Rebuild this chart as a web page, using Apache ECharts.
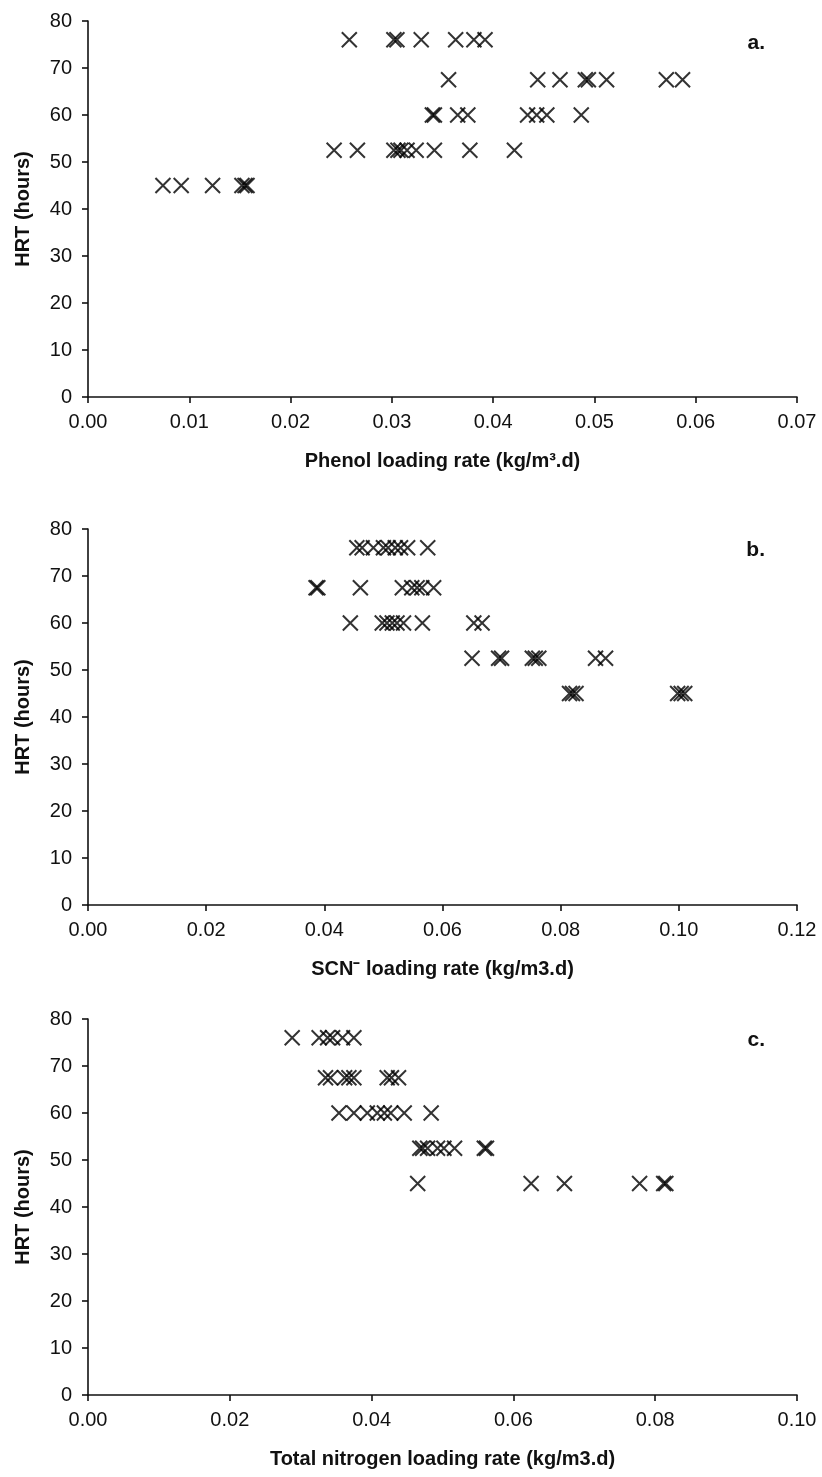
<!DOCTYPE html>
<html><head><meta charset="utf-8">
<script src="https://cdn.jsdelivr.net/npm/echarts@6/dist/echarts.min.js"></script>
<style>html,body{margin:0;padding:0;background:#fff}#c{width:822px;height:1477px}</style>
</head><body><div id="c"></div><script>
// Panel a: phenol loading rate vs HRT
const phenolRate = [0.0074,0.0092,0.0123,0.0152,0.0155,0.0157,
  0.0243,0.0266,0.0302,0.0306,0.0309,0.0315,0.0324,0.0342,0.0377,0.0421,
  0.0340,0.0342,0.0365,0.0375,0.0434,0.0443,0.0453,0.0487,
  0.0356,0.0444,0.0466,0.0491,0.0494,0.0512,0.0571,0.0587,
  0.0258,0.0302,0.0305,0.0329,0.0363,0.0381,0.0392];
const phenolHRT = [45,45,45,45,45,45,
  52.5,52.5,52.5,52.5,52.5,52.5,52.5,52.5,52.5,52.5,
  60,60,60,60,60,60,60,60,
  67.5,67.5,67.5,67.5,67.5,67.5,67.5,67.5,
  76,76,76,76,76,76,76];
// Panel b: SCN- loading rate vs HRT
const scnRate = [0.0815,0.0820,0.0826,0.0998,0.1004,0.1010,
  0.0650,0.0695,0.0700,0.0752,0.0757,0.0763,0.0859,0.0876,
  0.0444,0.0498,0.0506,0.0515,0.0523,0.0534,0.0566,0.0653,0.0667,
  0.0386,0.0389,0.0461,0.0532,0.0548,0.0557,0.0565,0.0585,
  0.0455,0.0464,0.0483,0.0500,0.0508,0.0520,0.0529,0.0541,0.0575];
const scnHRT = [45,45,45,45,45,45,
  52.5,52.5,52.5,52.5,52.5,52.5,52.5,52.5,
  60,60,60,60,60,60,60,60,60,
  67.5,67.5,67.5,67.5,67.5,67.5,67.5,67.5,
  76,76,76,76,76,76,76,76,76];
// Panel c: total nitrogen loading rate vs HRT
const tnRate = [0.0465,0.0625,0.0672,0.0778,0.0812,0.0815,
  0.0468,0.0472,0.0479,0.0493,0.0502,0.0517,0.0559,0.0562,
  0.0354,0.0375,0.0394,0.0408,0.0418,0.0427,0.0446,0.0484,
  0.0335,0.0342,0.0362,0.0368,0.0375,0.0422,0.0428,0.0438,
  0.0288,0.0326,0.0338,0.0345,0.0359,0.0375];
const tnHRT = [45,45,45,45,45,45,
  52.5,52.5,52.5,52.5,52.5,52.5,52.5,52.5,
  60,60,60,60,60,60,60,60,
  67.5,67.5,67.5,67.5,67.5,67.5,67.5,67.5,
  76,76,76,76,76,76];

const xTitles = ['Phenol loading rate (kg/m³.d)', 'SCN⁻ loading rate (kg/m3.d)', 'Total nitrogen loading rate (kg/m3.d)'];
const xMax = [0.07, 0.12, 0.10];
const xStep = [0.01, 0.02, 0.02];
const panelLabels = ['a.', 'b.', 'c.'];
const yTitle = 'HRT (hours)';

const FONT = '"Liberation Sans", Arial, sans-serif';
const INK = '#111';
const tops = [21, 529, 1019];
const heights = [376, 376, 376];
const labelTops = [28, 535, 1025];
const sets = [[phenolRate, phenolHRT],[scnRate, scnHRT],[tnRate, tnHRT]];

const axisLine = {show:true, onZero:false, lineStyle:{color:INK, width:1.6}};
const axisTick = {show:true, inside:false, length:6, lineStyle:{color:INK, width:1.6}};

const grids = [], xAxes = [], yAxes = [], series = [], titles = [];
for (let i = 0; i < 3; i++) {
  grids.push({left:88, right:25, top:tops[i], height:heights[i], containLabel:false});
  xAxes.push({type:'value', gridIndex:i, min:0, max:xMax[i], interval:xStep[i],
    axisLine, axisTick, splitLine:{show:false},
    axisLabel:{color:INK, fontFamily:FONT, fontSize:20, margin:15, formatter:v=>v.toFixed(2)},
    name:xTitles[i], nameLocation:'middle', nameGap:54,
    nameTextStyle:{color:INK, fontFamily:FONT, fontSize:20, fontWeight:'bold'}});
  yAxes.push({type:'value', gridIndex:i, min:0, max:80, interval:10,
    axisLine, axisTick, splitLine:{show:false},
    axisLabel:{color:INK, fontFamily:FONT, fontSize:20, margin:16},
    name:yTitle, nameLocation:'middle', nameGap:55,
    nameTextStyle:{color:INK, fontFamily:FONT, fontSize:20, fontWeight:'bold'}});
  series.push({type:'scatter', xAxisIndex:i, yAxisIndex:i,
    data: sets[i][0].map((x,k)=>[x, sets[i][1][k]]),
    symbol:'path://M0,0L10,10M10,0L0,10', symbolSize:15,
    itemStyle:{color:'rgba(0,0,0,0)', borderColor:'#000', borderWidth:2},
    emphasis:{disabled:true}, silent:true});
  titles.push({text:panelLabels[i], right:52, top:labelTops[i],
    textStyle:{color:INK, fontFamily:FONT, fontSize:21, fontWeight:'bold'}});
}
const chart = echarts.init(document.getElementById('c'), null, {renderer:'canvas'});
chart.setOption({animation:false, backgroundColor:'#fff', title:titles, grid:grids, xAxis:xAxes, yAxis:yAxes, series});
</script></body></html>
